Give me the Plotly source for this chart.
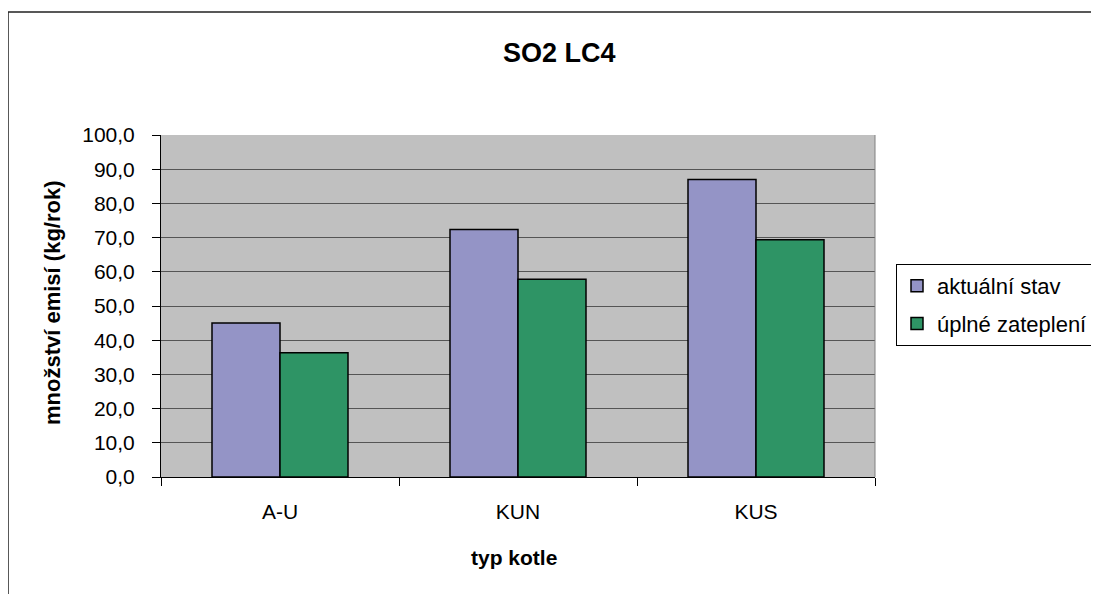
"""SO2 LC4 – emise podle typu kotle (Excel-style grouped bars)."""
import plotly.graph_objects as go

# Data
CATEGORIES = ["A-U", "KUN", "KUS"]
AKTUALNI = [45.0, 72.4, 87.0]
ZATEPLENI = [36.3, 57.8, 69.4]
SERIES_NAMES = ["aktuální stav", "úplné zateplení"]
Y_TICKS = [0, 10, 20, 30, 40, 50, 60, 70, 80, 90, 100]

FONT = "Liberation Sans, Arial, sans-serif"

# page body has an 8px margin, so the figure starts at (8, 8) in the window
OFF = 8
W, H = 1099 - OFF, 594 - OFF
# plot area in window pixels
L, R, T, B = 161, 875, 135, 477


def px_x(px):
    return (px - L) / (R - L)


def px_y(py):
    return (B - py) / (B - T)


fig = go.Figure()
fig.add_trace(go.Bar(
    x=CATEGORIES, y=AKTUALNI, name=SERIES_NAMES[0],
    marker=dict(color="#9494C6", line=dict(color="black", width=1.5)),
    legendgroup="a",
))
fig.add_trace(go.Bar(
    x=CATEGORIES, y=ZATEPLENI, name=SERIES_NAMES[1],
    marker=dict(color="#2E9465", line=dict(color="black", width=1.5)),
    legendgroup="b",
))

fig.update_layout(
    width=W, height=H,
    margin=dict(l=L - OFF, r=W - (R - OFF), t=T - OFF, b=H - (B - OFF), autoexpand=False),
    paper_bgcolor="white",
    plot_bgcolor="#C0C0C0",
    separators=", ",
    barmode="group",
    bargap=0.4286,
    bargroupgap=0,
    font=dict(family=FONT, size=21, color="black"),
    showlegend=True,
    legend=dict(
        x=px_x(896), y=px_y(264), xanchor="left", yanchor="top",
        bgcolor="white", bordercolor="black", borderwidth=1,
        font=dict(size=22), tracegroupgap=6,
        traceorder="grouped",
    ),
)

fig.update_xaxes(
    showline=True, linecolor="black", linewidth=1,
    ticks="outside", tickson="boundaries", ticklen=8, tickcolor="black",
    ticklabelstandoff=16,
    showgrid=False,
)
fig.update_yaxes(
    range=[0, 100], tickvals=Y_TICKS, tickformat=".1f",
    showline=True, linecolor="black", linewidth=1,
    ticks="outside", ticklen=8, tickcolor="black",
    ticklabelstandoff=13,
    showgrid=True, gridcolor="#555555", gridwidth=1.2,
    zeroline=False,
)

# right border of plot area
fig.add_shape(type="line", xref="paper", yref="paper",
              x0=1, x1=1, y0=0, y1=1, line=dict(color="#808080", width=1))
# outer chart frame (runs off the page on the right and bottom)
fig.add_shape(type="rect", xref="paper", yref="paper",
              x0=px_x(8), x1=px_x(1120), y0=px_y(620), y1=px_y(12),
              line=dict(color="#222222", width=1.5), layer="below")

fig.add_annotation(text="<b>SO2 LC4</b>", xref="paper", yref="paper",
                   x=px_x(559), y=px_y(53), xanchor="center", yanchor="middle",
                   showarrow=False, font=dict(size=27))
fig.add_annotation(text="<b>množství emisí (kg/rok)</b>", xref="paper", yref="paper",
                   x=px_x(52), y=px_y(302), xanchor="center", yanchor="middle",
                   textangle=-90, showarrow=False, font=dict(size=22))
fig.add_annotation(text="<b>typ kotle</b>", xref="paper", yref="paper",
                   x=px_x(514), y=px_y(557), xanchor="center", yanchor="middle",
                   showarrow=False, font=dict(size=21))

fig.write_html("out.html")
